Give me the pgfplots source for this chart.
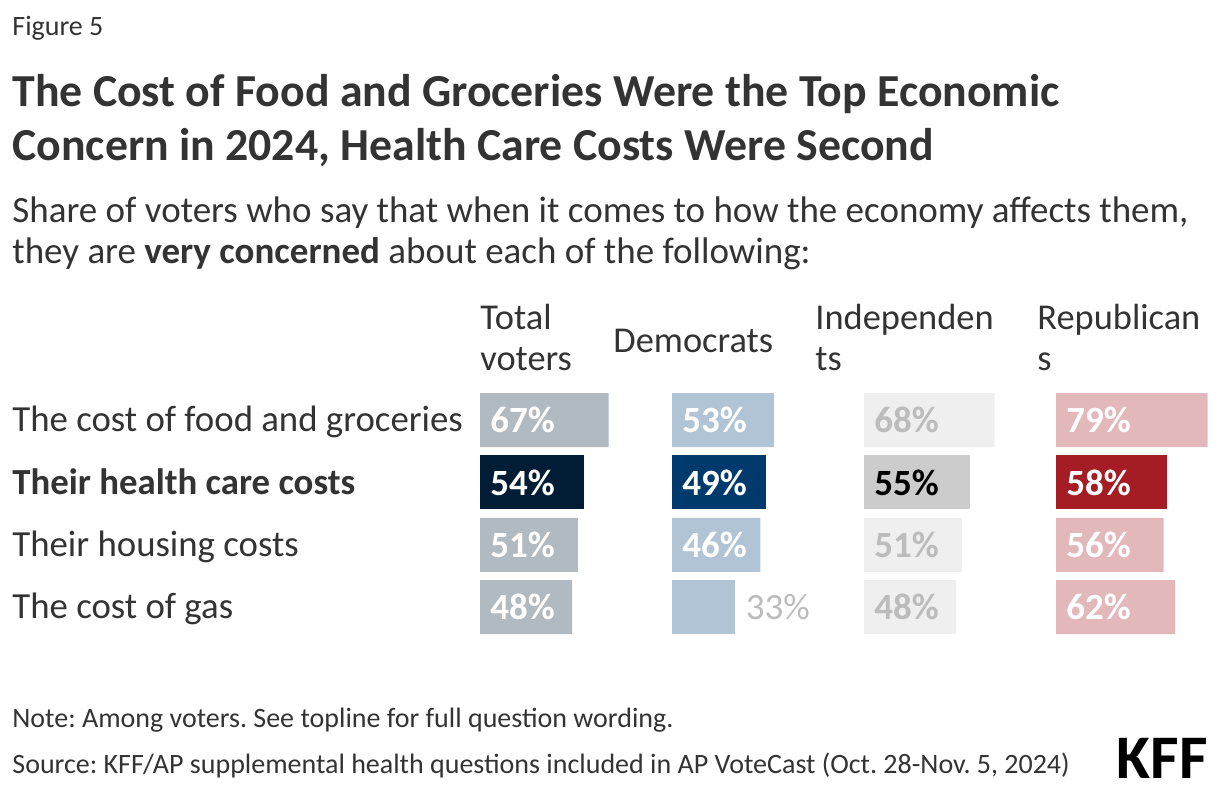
\documentclass[border=0pt]{standalone}
\usepackage{fontspec}
\setmainfont{Carlito}
\usepackage{pgfplots}
\pgfplotsset{compat=1.18}
\frenchspacing

\definecolor{ink}{HTML}{333333}
\definecolor{totL}{HTML}{B1B9C1}
\definecolor{totD}{HTML}{001D35}
\definecolor{demL}{HTML}{B0C4D6}
\definecolor{demD}{HTML}{003A6C}
\definecolor{indL}{HTML}{EFEFEF}
\definecolor{indD}{HTML}{CCCCCC}
\definecolor{indT}{HTML}{BCBCBC}
\definecolor{repL}{HTML}{E3B8BB}
\definecolor{repD}{HTML}{A51C24}

\pgfplotsset{
  panel/.style={
    xbar, scale only axis, width=76.8pt, height=124.8pt,
    xmin=0, xmax=80, ymin=-0.5, ymax=3.5, y dir=reverse,
    axis lines=none, ticks=none, bar width=27pt, bar shift=0pt,
    clip=false, anchor=north west,
    /pgf/number format/assume math mode=true,
  },
  % label sits inside the bar, near its start
  inlab/.style={
    nodes near coords={\pgfmathprintnumber{\pgfplotspointmeta}\%},
    point meta=x,
    visualization depends on={\thisrow{v} \as \xv},
    every node near coord/.append style={anchor=west, inner sep=0pt,
      xshift={5pt-0.96pt*\xv}, text=#1,
      font=\fontsize{18.5}{18.5}\selectfont\bfseries},
  },
  % label sits just past the bar end
  outlab/.style={
    nodes near coords={\pgfmathprintnumber{\pgfplotspointmeta}\%},
    point meta=x,
    every node near coord/.append style={anchor=west, inner sep=0pt,
      xshift=5pt, text=#1, font=\fontsize{18.5}{18.5}\selectfont},
  },
}

\begin{document}
\begin{tikzpicture}
\useasboundingbox (0pt,0pt) rectangle (610pt,-396pt);

% titles
\node[anchor=base west, inner sep=0pt, text=ink, font=\fontsize{14}{16}\selectfont] at (6pt,-18pt) {Figure 5};
\node[anchor=base west, inner sep=0pt, text=ink, font=\fontsize{22.9}{26}\selectfont\bfseries] at (6pt,-53.5pt) {The Cost of Food and Groceries Were the Top Economic};
\node[anchor=base west, inner sep=0pt, text=ink, font=\fontsize{22.9}{26}\selectfont\bfseries] at (6pt,-80pt) {Concern in 2024, Health Care Costs Were Second};
\node[anchor=base west, inner sep=0pt, text=ink, font=\fontsize{18.5}{20}\selectfont] at (6pt,-111pt) {Share of voters who say that when it comes to how the economy affects them,};
\node[anchor=base west, inner sep=0pt, text=ink, font=\fontsize{18.5}{20}\selectfont] at (6pt,-131.5pt) {they are \textbf{very concerned} about each of the following:};

% column headers
\begin{scope}[every node/.style={anchor=base west, inner sep=0pt, text=ink, font=\fontsize{18.2}{18}\selectfont}]
\node at (240pt,-164.5pt) {Total};
\node at (240pt,-185pt) {voters};
\node at (306.5pt,-176pt) {Democrats};
\node at (407.5pt,-164.5pt) {Independen};
\node at (407.5pt,-185pt) {ts};
\node at (518.5pt,-164.5pt) {Republican};
\node at (518.5pt,-185pt) {s};
\end{scope}

% row labels
\begin{scope}[every node/.style={anchor=base west, inner sep=0pt, text=ink, font=\fontsize{18.4}{18}\selectfont}]
\node at (6pt,-215.5pt) {The cost of food and groceries};
\node[font=\fontsize{18.4}{18}\selectfont\bfseries] at (6pt,-247pt) {Their health care costs};
\node at (6pt,-278pt) {Their housing costs};
\node at (6pt,-309pt) {The cost of gas};
\end{scope}

% Total voters
\begin{axis}[panel, at={(240pt,-194.4pt)}]
\addplot[fill=totL, draw=none, inlab=white] table[x=v, y=r] {
r v
0 67
2 51
3 48
};
\addplot[fill=totD, draw=none, inlab=white] table[x=v, y=r] {
r v
1 54
};
\end{axis}

% Democrats
\begin{axis}[panel, at={(336pt,-194.4pt)}]
\addplot[fill=demL, draw=none, inlab=white] table[x=v, y=r] {
r v
0 53
2 46
};
\addplot[fill=demL, draw=none, outlab=indT] table[x=v, y=r] {
r v
3 33
};
\addplot[fill=demD, draw=none, inlab=white] table[x=v, y=r] {
r v
1 49
};
\end{axis}

% Independents
\begin{axis}[panel, at={(432pt,-194.4pt)}]
\addplot[fill=indL, draw=none, inlab=indT] table[x=v, y=r] {
r v
0 68
2 51
3 48
};
\addplot[fill=indD, draw=none, inlab=black] table[x=v, y=r] {
r v
1 55
};
\end{axis}

% Republicans
\begin{axis}[panel, at={(528pt,-194.4pt)}]
\addplot[fill=repL, draw=none, inlab=white] table[x=v, y=r] {
r v
0 79
2 56
3 62
};
\addplot[fill=repD, draw=none, inlab=white] table[x=v, y=r] {
r v
1 58
};
\end{axis}

% notes
\node[anchor=base west, inner sep=0pt, text=ink, font=\fontsize{14}{16}\selectfont] at (6pt,-363.5pt) {Note: Among voters. See topline for full question wording.};
\node[anchor=base west, inner sep=0pt, text=ink, font=\fontsize{14}{16}\selectfont] at (6pt,-386.5pt) {Source: KFF/AP supplemental health questions included in AP VoteCast (Oct. 28-Nov. 5, 2024)};
\node[anchor=base east, inner sep=0pt, text=black, font=\fontsize{31}{31}\selectfont\bfseries] at (604pt,-389pt) {KFF};
\end{tikzpicture}
\end{document}
